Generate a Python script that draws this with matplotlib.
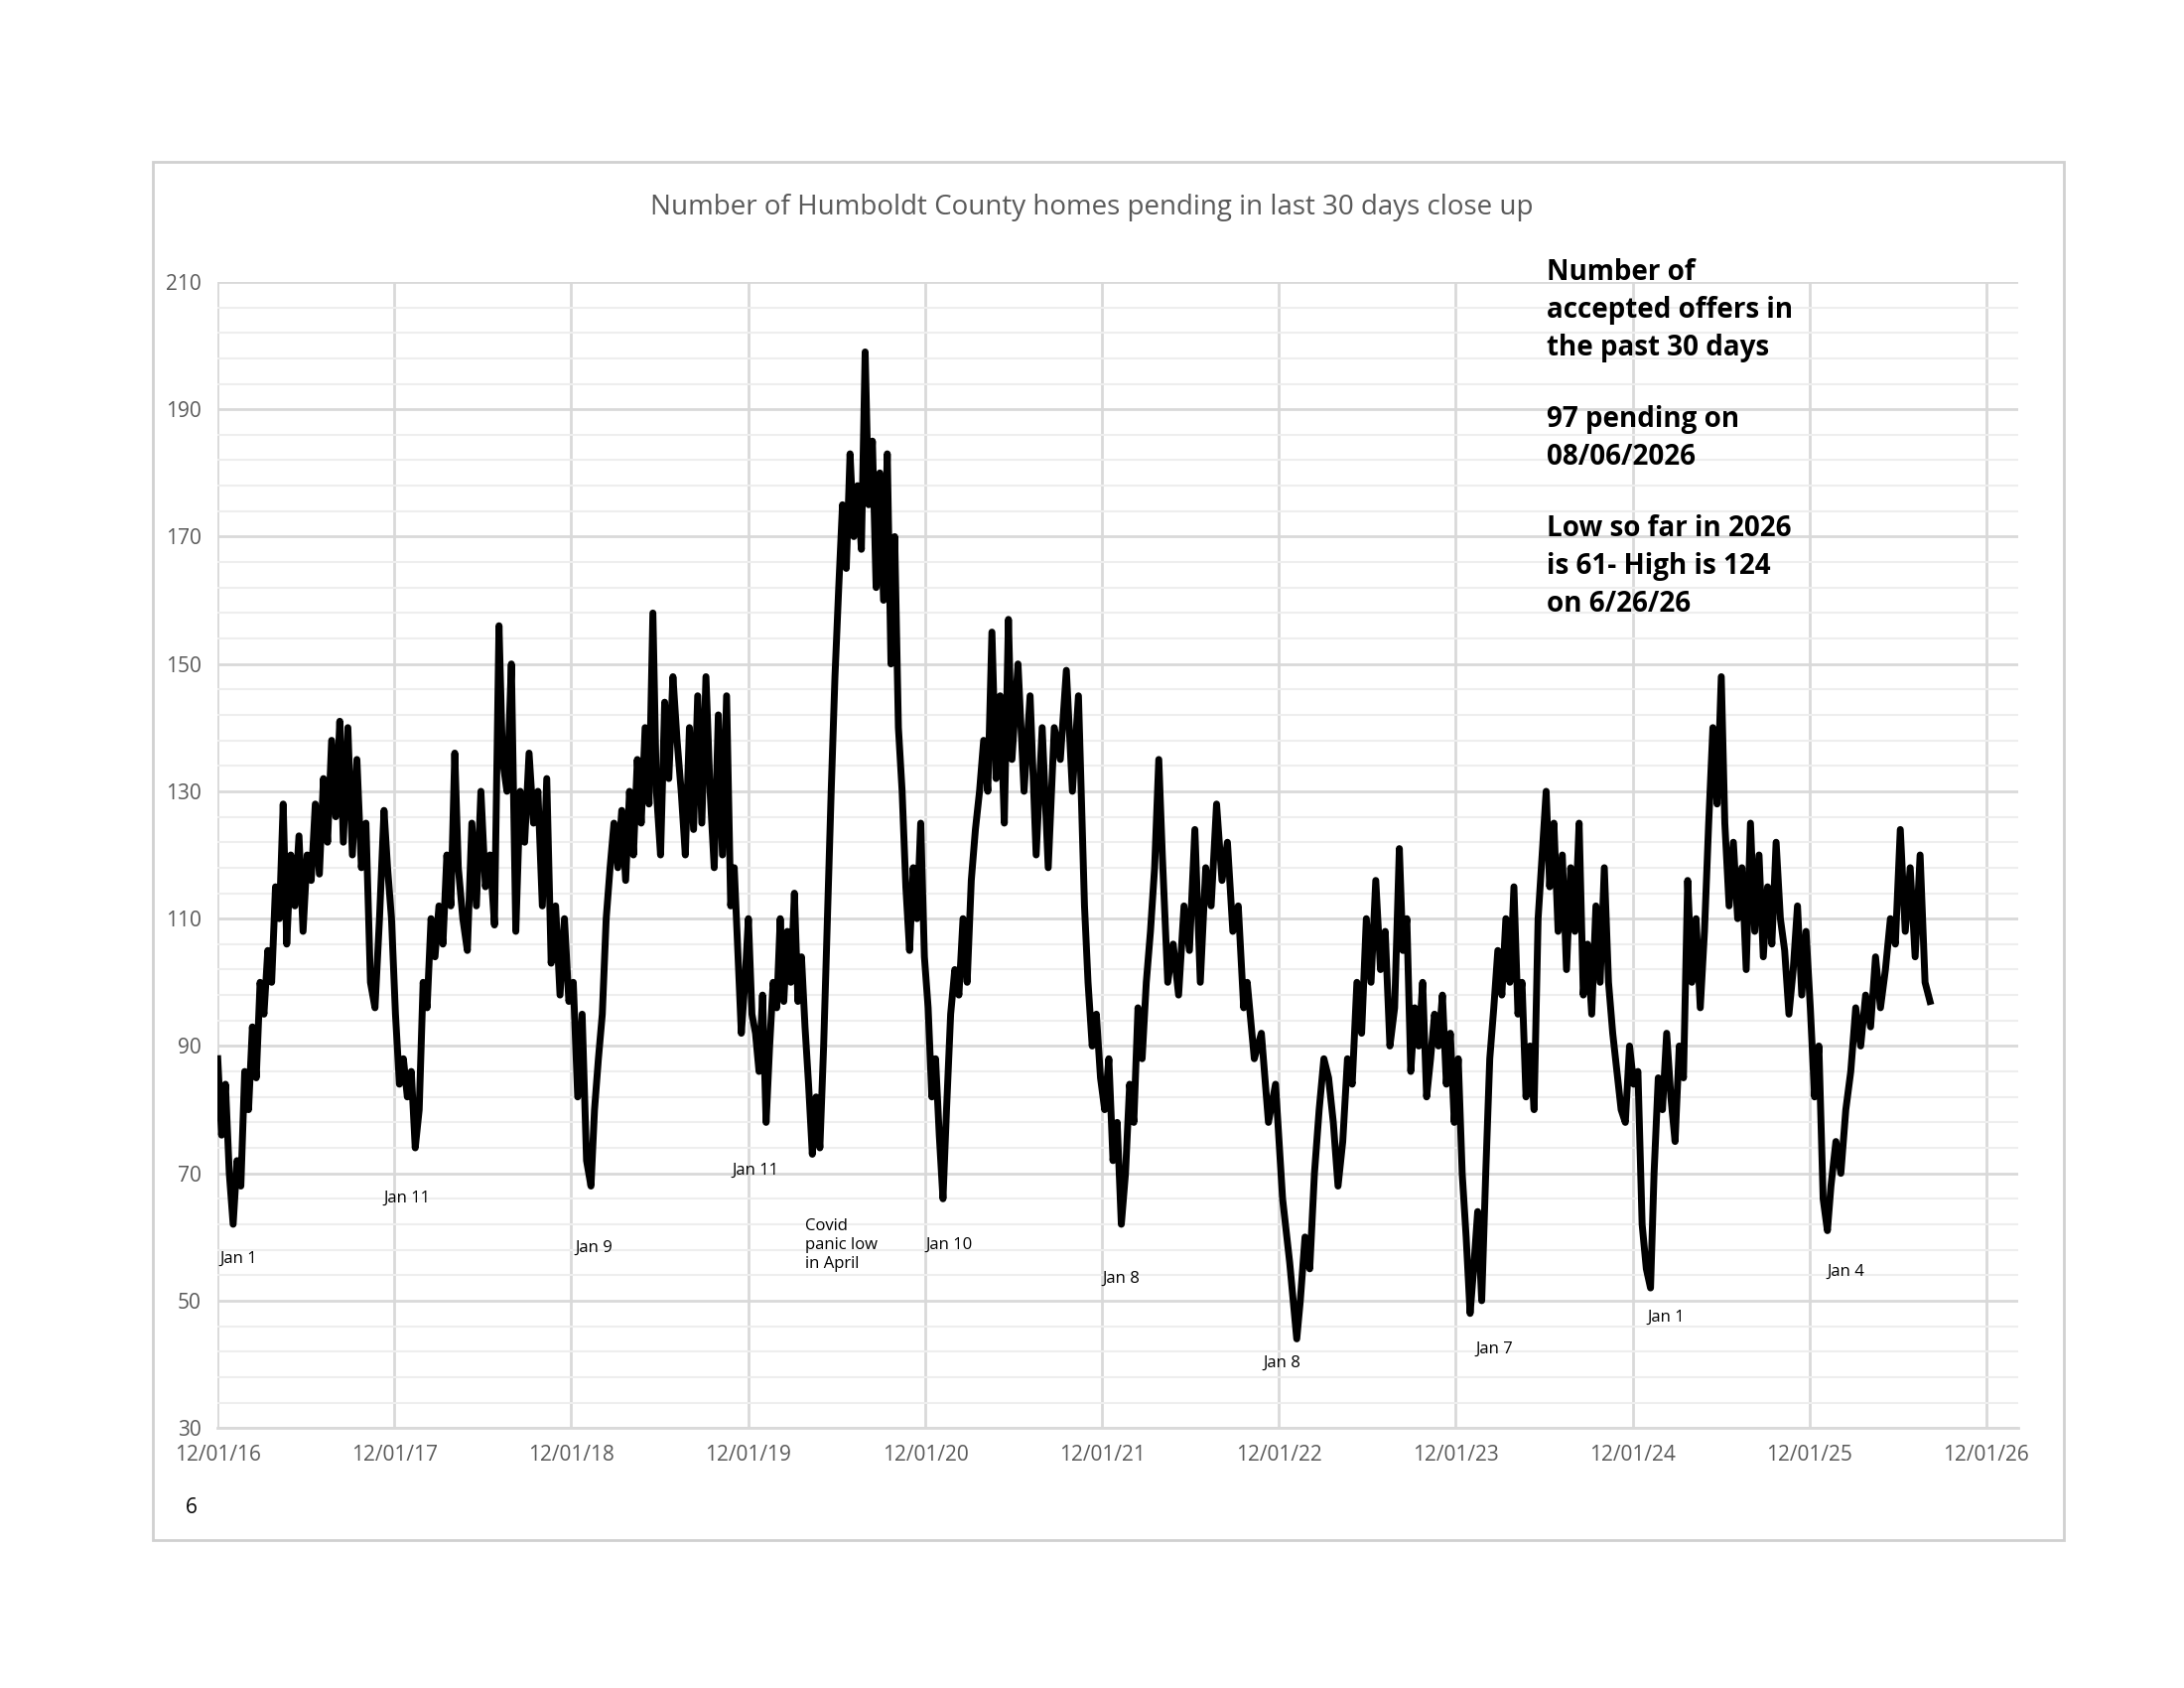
import datetime as dt
import numpy as np
import matplotlib
matplotlib.use("Agg")
import matplotlib.pyplot as plt
import matplotlib.dates as mdates
from matplotlib.patches import Rectangle

plt.rcParams['font.family'] = ['Open Sans', 'DejaVu Sans']

# segments: (start year offset from 12/01/16, end offset, readings)
segments = [
    (0.00, 0.37, [88, 76, 84, 70, 62, 72, 68, 86, 80, 93, 85, 100, 95, 105, 100, 115, 110, 128]),
    (0.39, 0.69, [106, 120, 112, 123, 108, 120, 116, 128, 117, 132, 122, 138, 126, 141]),
    (0.71, 0.94, [122, 140, 120, 135, 118, 125, 100, 96, 110, 127]),
    (0.96, 1.34, [118, 110, 95, 84, 88, 82, 86, 74, 80, 100, 96, 110, 104, 112, 106, 120, 112, 136]),
    (1.36, 1.59, [118, 110, 105, 125, 112, 130, 115, 120, 109, 156]),
    (1.61, 2.11, [135, 130, 150, 108, 130, 122, 136, 125, 130, 112, 132, 103, 112, 98, 110, 97, 100, 82, 95, 72, 68]),
    (2.13, 2.46, [80, 88, 95, 110, 118, 125, 118, 127, 116, 130, 120, 135, 125, 140, 128, 158]),
    (2.48, 2.90, [130, 120, 144, 132, 148, 138, 130, 120, 140, 124, 145, 125, 148, 130, 118, 142, 120, 145, 112]),
    (2.92, 3.32, [118, 105, 92, 100, 110, 95, 92, 86, 98, 78, 90, 100, 96, 110, 97, 108, 100, 114, 97, 104, 93]),
    (3.34, 3.66, [84, 73, 82, 74, 90, 110, 130, 148, 162, 175, 165, 183, 170, 178, 168, 199]),
    (3.68, 4.10, [175, 185, 162, 180, 160, 183, 150, 170, 140, 130, 115, 105, 118, 110, 125, 104, 96, 82, 88, 76, 66]),
    (4.12, 4.47, [80, 95, 102, 98, 110, 100, 116, 124, 130, 138, 130, 155, 132, 145, 125, 157]),
    (4.49, 4.90, [135, 150, 130, 145, 120, 140, 118, 140, 135, 149, 130, 145, 112]),
    (4.92, 5.32, [100, 90, 95, 85, 80, 88, 72, 78, 62, 70, 84, 78, 96, 88, 100, 108, 118, 135]),
    (5.34, 5.80, [120, 100, 106, 98, 112, 105, 124, 100, 118, 112, 128, 116, 122, 108, 112, 96]),
    (5.82, 6.10, [100, 88, 92, 78, 84, 66, 56, 44]),
    (6.12, 6.68, [50, 60, 55, 70, 80, 88, 85, 78, 68, 75, 88, 84, 100, 92, 110, 100, 116, 102, 108, 90, 96, 121]),
    (6.70, 7.08, [105, 110, 86, 96, 90, 100, 82, 88, 95, 90, 98, 84, 92, 78, 88, 70, 60, 48]),
    (7.10, 7.51, [55, 64, 50, 70, 88, 96, 105, 98, 110, 100, 115, 95, 100, 82, 90, 80, 110, 120, 130]),
    (7.53, 8.10, [115, 125, 108, 120, 102, 118, 108, 125, 98, 106, 95, 112, 100, 118, 100, 92, 86, 80, 78, 90, 84, 86, 62, 55, 52]),
    (8.12, 8.50, [70, 85, 80, 92, 82, 75, 90, 85, 116, 100, 110, 96, 108, 125, 140, 128, 148]),
    (8.52, 9.10, [125, 112, 122, 110, 118, 102, 125, 108, 120, 104, 115, 106, 122, 110, 105, 95, 102, 112, 98, 108, 96, 82, 90, 66, 61]),
    (9.12, 9.68, [68, 75, 70, 80, 86, 96, 90, 98, 93, 104, 96, 102, 110, 106, 124, 108, 118, 104, 120, 100, 97]),
]

notes = [
    (0.01, 56.6, "Jan 1"), (0.94, 66.0, "Jan 11"), (2.02, 58.3, "Jan 9"),
    (2.91, 70.5, "Jan 11"), (4.0, 58.8, "Jan 10"), (5.0, 53.5, "Jan 8"),
    (5.91, 40.2, "Jan 8"), (7.11, 42.4, "Jan 7"), (8.08, 47.3, "Jan 1"),
    (9.10, 54.6, "Jan 4"),
]

base = dt.datetime(2016, 12, 1)
def tdate(t):
    return base + dt.timedelta(days=t * 365.25)

xs, ys = [], []
for t0, t1, vals in segments:
    for t, v in zip(np.linspace(t0, t1, len(vals)), vals):
        xs.append(tdate(t))
        ys.append(v)

fig = plt.figure(figsize=(22, 17), dpi=100)
fig.add_artist(Rectangle((0.07, 0.0875), 0.875, 0.8165, transform=fig.transFigure,
                         fill=False, edgecolor='#d0d0d0', lw=2))
ax = fig.add_axes([0.0997, 0.154, 0.8245, 0.679])
ax.plot(xs, ys, color='black', lw=5, zorder=3)

ax.set_ylim(30, 210)
ax.set_xlim(base, tdate(10.18))
ax.set_yticks(np.arange(30, 211, 20))
ax.set_yticks(np.arange(30, 211, 4), minor=True)
ticks = [dt.datetime(2016 + i, 12, 1) for i in range(11)]
ax.set_xticks(ticks)
ax.xaxis.set_major_formatter(mdates.DateFormatter('%m/%d/%y'))
ax.grid(which='major', color='#d9d9d9', lw=2)
ax.grid(which='minor', axis='y', color='#eeeeee', lw=1.5)
for s in ['top', 'right', 'left']:
    ax.spines[s].set_visible(False)
ax.spines['bottom'].set_color('#d9d9d9')
ax.spines['bottom'].set_linewidth(2)
ax.tick_params(which='both', length=0, labelsize=15, colors='#595959', pad=12)

for t, y, s in notes:
    ax.text(tdate(t), y, s, fontsize=12, va='center', ha='left')
ax.text(tdate(3.32), 63.0, "Covid\npanic low\nin April", fontsize=12, va='top', ha='left', linespacing=1.25)

fig.text(0.5, 0.877, "Number of Humboldt County homes pending in last 30 days close up",
         ha='center', va='center', fontsize=20, color='#595959')
kw = dict(fontsize=20, fontweight='bold', va='top', linespacing=1.4)
fig.text(0.708, 0.847, "Number of\naccepted offers in\nthe past 30 days", **kw)
fig.text(0.708, 0.760, "97 pending on\n08/06/2026", **kw)
fig.text(0.708, 0.695, "Low so far in 2026\nis 61- High is 124\non 6/26/26", **kw)
fig.text(0.085, 0.107, "6", fontsize=15, va='center')

fig.savefig("out.png", dpi=100)
